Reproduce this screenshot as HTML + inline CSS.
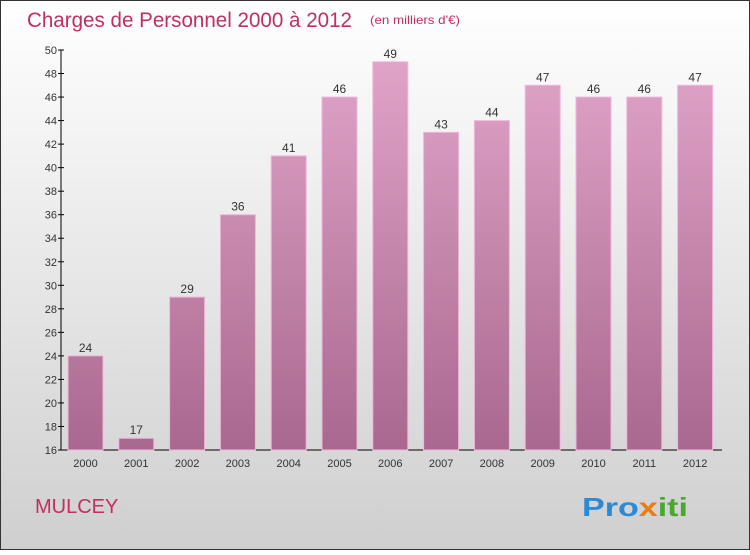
<!DOCTYPE html>
<html><head><meta charset="utf-8"><style>
body{margin:0}
svg text{font-family:"Liberation Sans",sans-serif}
</style></head><body>
<svg id="chart" width="750" height="550" xmlns="http://www.w3.org/2000/svg">
<defs>
<linearGradient id="bg" x1="0" y1="0" x2="0" y2="1"><stop offset="0" stop-color="#ffffff"/><stop offset="1" stop-color="#cfcfcf"/></linearGradient>
<linearGradient id="bar" gradientUnits="userSpaceOnUse" x1="0" y1="50" x2="0" y2="450"><stop offset="0" stop-color="#e2a5ca"/><stop offset="1" stop-color="#a9688f"/></linearGradient>
</defs>
<rect x="0.5" y="0.5" width="749" height="549" fill="url(#bg)" stroke="#333"/>
<text x="27" y="27" font-size="21" fill="#c0305e" textLength="325" lengthAdjust="spacingAndGlyphs">Charges de Personnel 2000 à 2012</text>
<text x="370" y="24" font-size="12" fill="#c0305e" textLength="90" lengthAdjust="spacingAndGlyphs">(en milliers d'€)</text>
<text x="35" y="513" font-size="20" fill="#c0305e">MULCEY</text>
<text x="582" y="516" font-size="26" font-weight="bold" textLength="106" lengthAdjust="spacingAndGlyphs"><tspan fill="#2a8ad6">Pro</tspan><tspan fill="#f07a10">x</tspan><tspan fill="#4aa830">iti</tspan></text>
<g id="axes"></g>
<g id="bars"></g>
</svg>
<script>
const years=["2000","2001","2002","2003","2004","2005","2006","2007","2008","2009","2010","2011","2012"];
const values=[24,17,29,36,41,46,49,43,44,47,46,46,47];
const yTicks=[16,18,20,22,24,26,28,30,32,34,36,38,40,42,44,46,48,50];
const NS="http://www.w3.org/2000/svg";
const y0=450,y1=50,vmin=16,vmax=50;
function yScale(v){return y0-(v-vmin)/(vmax-vmin)*(y0-y1);}
function xScale(i){return 85.5+i*50.8;}
function mk(t,a,p){const e=document.createElementNS(NS,t);for(const k in a)e.setAttribute(k,a[k]);p.appendChild(e);return e;}
const ax=document.getElementById('axes'),bg=document.getElementById('bars');
const yl=mk('line',{x1:61,y1:50,x2:61,y2:450,stroke:'#000'},ax);


const xl=mk('line',{x1:61,y1:450,x2:722,y2:450,stroke:'#000'},ax);


yTicks.forEach(v=>{const y=yScale(v);
mk('line',{x1:58,y1:y,x2:64,y2:y,stroke:'#000'},ax);
const t=mk('text',{x:57,y:y+4,'font-size':11,fill:'#333','text-anchor':'end'},ax);t.textContent=v;

});
years.forEach((yr,i)=>{const cx=xScale(i),v=values[i],y=yScale(v);
const r=mk('rect',{x:cx-17.5,y:y,width:35,height:y0-y,fill:'url(#bar)',stroke:'#efb8d8','stroke-width':1},bg);


const l=mk('text',{x:cx,y:y-4,'font-size':12,fill:'#333','text-anchor':'middle'},bg);l.textContent=v;


const xt=mk('text',{x:cx,y:467,'font-size':11,fill:'#333','text-anchor':'middle'},ax);xt.textContent=yr;

});
</script>
</body></html>
